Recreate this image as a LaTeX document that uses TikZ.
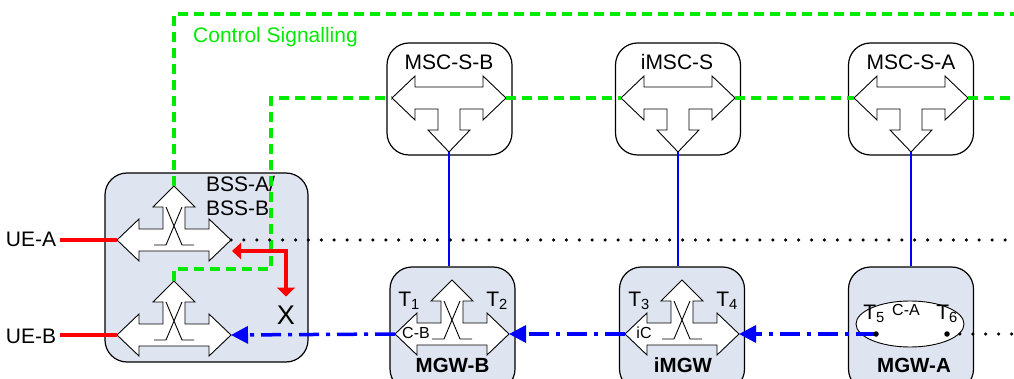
\documentclass[tikz,border=0pt]{standalone}
\usepackage{fontspec}
\setmainfont{Liberation Sans}
\usepackage{xcolor}
\usetikzlibrary{arrows.meta,positioning,shapes.geometric,calc}

\definecolor{sigGreen}{RGB}{0,235,0}
\definecolor{boxBlue}{RGB}{222,228,240}
\definecolor{bearBlue}{RGB}{0,0,255}
\definecolor{ueRed}{RGB}{255,0,0}

\begin{document}
\begin{tikzpicture}[x=1pt,y=-1pt,
  lab/.style={font=\fontsize{21}{24}\selectfont,inner sep=0pt},
  gwlab/.style={lab,font=\fontsize{20.5}{24}\selectfont\bfseries},
  small/.style={font=\fontsize{16}{18}\selectfont,inner sep=0pt},
  nodebox/.style={draw,line width=1.2pt,rounded corners=22pt,
                  minimum width=125pt,minimum height=112pt,fill=white},
  gwbox/.style={nodebox,fill=boxBlue,minimum height=124pt},
  symb/.style={draw,line width=0.9pt,fill=white,line join=miter},
  sig/.style={draw=sigGreen,line width=4pt,dash pattern=on 10pt off 6pt},
  bearer/.style={draw=bearBlue,line width=3.5pt,
                 dash pattern=on 20pt off 7pt on 4pt off 7pt,
                 -{Triangle[length=17pt,width=17pt]}},
  vlink/.style={draw=bearBlue,line width=1.8pt},
  dots/.style={line width=3.5pt,line cap=round,dash pattern=on 0pt off 12.9pt},
  ueline/.style={draw=ueRed,line width=4pt},
  rarr/.style={draw=ueRed,line width=4.5pt,
               {Triangle[length=9pt,width=16pt]}-{Triangle[length=9pt,width=18pt]}},
  tdot/.style={circle,fill,inner sep=0pt,minimum size=5.5pt},
  % crossbar switch (BSS, MGW)
  xsw/.pic={
    \path[symb] (-57,0) -- (-35,-21) -- (-35,-11) -- (-11,-11) -- (-11,-33)
      -- (-21,-33) -- (0,-54) -- (21,-33) -- (11,-33) -- (11,-11) -- (35,-11)
      -- (35,-21) -- (57,0) -- (35,21) -- (35,11) -- (-35,11) -- (-35,21) -- cycle;
    \draw[line width=0.9pt] (-8,-33) -- (8,5) -- (20,5) (8,-33) -- (-8,5) -- (-20,5);
    \coordinate (-w) at (-57,0);
    \coordinate (-e) at (57,0);
    \coordinate (-n) at (0,-54);
  },
  % server switch (MSC-S)
  tsw/.pic={
    \path[symb] (-57,0) -- (-34,-22) -- (-34,-11) -- (34,-11) -- (34,-22)
      -- (57,0) -- (34,22) -- (34,11) -- (11,11) -- (11,32) -- (21,32)
      -- (0,54) -- (-21,32) -- (-11,32) -- (-11,11) -- (-34,11) -- (-34,22) -- cycle;
    \coordinate (-w) at (-57,0);
    \coordinate (-e) at (57,0);
    \coordinate (-s) at (0,54);
  }]
\useasboundingbox (0,0) rectangle (1014,379);
\clip (0,0) rectangle (1014,379);

% boxes
\node[gwbox,minimum width=203pt,minimum height=189pt] (bss) at (206.5,267.5) {};
\node[nodebox] (mscb) at (449.5,99) {};
\node[nodebox] (imsc) at (678,99) {};
\node[nodebox] (msca) at (911,99) {};
\node[gwbox] (mgwb) at (452.5,329) {};
\node[gwbox] (imgw) at (682,329) {};
\node[gwbox] (mgwa) at (911,329) {};

% switches
\pic (bssup) at (174,240) {xsw};
\pic (bsslo) at (174,335) {xsw};
\pic (mgwbsw) at (452,334) {xsw};
\pic (imgwsw) at (682,334) {xsw};
\pic (mscbsw) at (449,98) {tsw};
\pic (imscsw) at (678,98) {tsw};
\pic (mscasw) at (911,98) {tsw};
\node[draw,ellipse,line width=0.9pt,fill=white,minimum width=108pt,
      minimum height=46pt] (ctxa) at (910,324) {};

% labels
\node[lab] (uea) at (31,239) {UE-A};
\node[lab] (ueb) at (31,336) {UE-B};
\node[lab,anchor=west,align=left] (bsslab) at (206,196) {BSS-A/\\BSS-B};
\node[lab,text=sigGreen,anchor=west] (ctl) at (193,37) {Control Signalling};
\node[lab] (msclabb) at (449,62) {MSC-S-B};
\node[lab] (imsclab) at (677,62) {iMSC-S};
\node[lab] (msclaba) at (911,62) {MSC-S-A};
\node[gwlab] (mgwlabb) at (452.5,365) {MGW-B};
\node[gwlab] (imgwlab) at (683,365) {iMGW};
\node[gwlab] (mgwlaba) at (914,365) {MGW-A};
\node[lab] (t1) at (409,301) {T\textsubscript{1}};
\node[lab] (t2) at (497,301) {T\textsubscript{2}};
\node[small] (cb) at (416,333) {C-B};
\node[lab] (t3) at (639,301) {T\textsubscript{3}};
\node[lab] (t4) at (727,301) {T\textsubscript{4}};
\node[small] (ic) at (644,333) {iC};
\node[lab] (t5) at (874,314) {T\textsubscript{5}};
\node[small] (ca) at (906,310) {C-A};
\node[lab] (t6) at (947,314) {T\textsubscript{6}};
\node[font=\fontsize{27}{30}\selectfont,inner sep=0pt] (cut) at (286,315) {X};

\coordinate (sigtop) at (1014,14);
\coordinate (sigbend) at (271,269);
\coordinate (sigright) at (1014,98);
\coordinate (rimA) at (1014,240);
\coordinate (rimB) at (1014,334);
\coordinate (rstart) at (232,251);
\coordinate (t5pos) at (876,334);
\coordinate (t6pos) at (947,334);

% control signalling
\draw[sig] (bssup-n) |- (sigtop);
\draw[sig] (bsslo-n) |- (sigbend) |- (mscbsw-w);
\draw[sig] (mscbsw-e) -- (imscsw-w);
\draw[sig] (imscsw-e) -- (mscasw-w);
\draw[sig] (mscasw-e) -- (sigright);

% server to gateway
\draw[vlink] (mscbsw-s) -- (mscbsw-s |- mgwb.north);
\draw[vlink] (imscsw-s) -- (imscsw-s |- imgw.north);
\draw[vlink] (mscasw-s) -- (mscasw-s |- mgwa.north);

% user plane
\draw[ueline] ([xshift=4pt]uea.east |- bssup-w) -- (bssup-w);
\draw[ueline] ([xshift=4pt]ueb.east |- bsslo-w) -- (bsslo-w);
\draw[dots] (bssup-e) -- (rimA);
\draw[dots] (t6pos) -- (rimB);
\draw[bearer] (t5pos) -- (imgwsw-e);
\draw[bearer] (imgwsw-w) -- (mgwbsw-e);
\draw[bearer] (mgwbsw-w) -- (bsslo-e);
\draw[rarr,shorten >=9pt] (rstart) -| (cut);
\node[tdot] (t5dot) at (t5pos) {};
\node[tdot] (t6dot) at (t6pos) {};
\end{tikzpicture}
\end{document}
